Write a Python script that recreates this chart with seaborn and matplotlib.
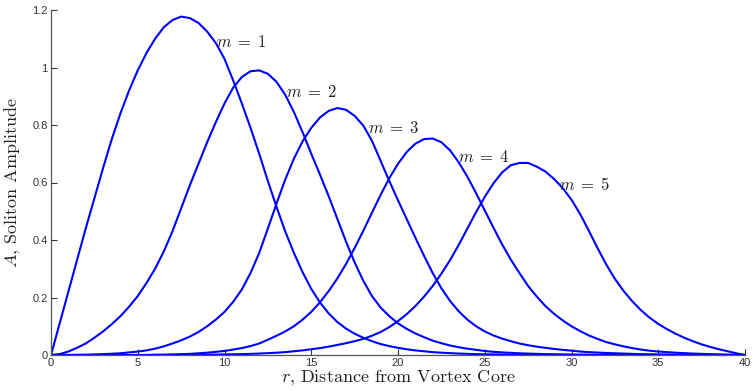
import matplotlib.pyplot as plt
import seaborn as sns
import pandas as pd

# radial grid (distance from vortex core), every half unit from 0 to 40
r = [i * 0.5 for i in range(81)]

# soliton amplitude for each winding number m
amp_m1 = [0, 0.11, 0.22, 0.33, 0.44, 0.545, 0.65, 0.75, 0.84, 0.92,
          0.99, 1.05, 1.10, 1.14, 1.165, 1.177, 1.172, 1.155, 1.125, 1.085,
          1.03, 0.955, 0.875, 0.79, 0.70, 0.605, 0.515, 0.43, 0.355, 0.288,
          0.23, 0.183, 0.145, 0.115, 0.092, 0.074, 0.06, 0.048, 0.038, 0.031,
          0.025, 0.02, 0.016, 0.013, 0.010, 0.008, 0.0065, 0.005, 0.004, 0.003,
          0.0025, 0.002, 0.0015, 0.0012, 0.001, 0.0008, 0.0006, 0.0005, 0.0004, 0.0003,
          0.0002, 0.0002, 0.0001, 0, 0, 0, 0, 0, 0, 0,
          0, 0, 0, 0, 0, 0, 0, 0, 0, 0,
          0]
amp_m2 = [0, 0.003, 0.012, 0.025, 0.04, 0.06, 0.082, 0.107, 0.135, 0.168,
          0.205, 0.25, 0.30, 0.36, 0.43, 0.51, 0.59, 0.665, 0.74, 0.81,
          0.875, 0.93, 0.967, 0.987, 0.99, 0.978, 0.95, 0.905, 0.845, 0.775,
          0.70, 0.628, 0.553, 0.474, 0.395, 0.322, 0.258, 0.205, 0.165, 0.135,
          0.11, 0.091, 0.075, 0.062, 0.05, 0.041, 0.033, 0.027, 0.022, 0.018,
          0.014, 0.011, 0.009, 0.0075, 0.006, 0.005, 0.004, 0.003, 0.0025, 0.002,
          0.0015, 0.0012, 0.001, 0.0008, 0.0006, 0.0004, 0.0003, 0.0002, 0, 0,
          0, 0, 0, 0, 0, 0, 0, 0, 0, 0,
          0]
amp_m3 = [0, 0, 0, 0.0005, 0.001, 0.002, 0.003, 0.0045, 0.006, 0.009,
          0.012, 0.016, 0.022, 0.03, 0.04, 0.051, 0.064, 0.08, 0.10, 0.123,
          0.15, 0.185, 0.228, 0.285, 0.355, 0.44, 0.527, 0.61, 0.683, 0.743,
          0.79, 0.826, 0.849, 0.859, 0.853, 0.832, 0.798, 0.745, 0.675, 0.605,
          0.538, 0.473, 0.408, 0.345, 0.285, 0.232, 0.188, 0.152, 0.123, 0.10,
          0.082, 0.068, 0.057, 0.048, 0.04, 0.034, 0.029, 0.025, 0.021, 0.018,
          0.015, 0.012, 0.010, 0.0085, 0.007, 0.006, 0.005, 0.004, 0.003, 0.0025,
          0.002, 0.0015, 0.001, 0.0007, 0.0005, 0.0003, 0.0002, 0, 0, 0,
          0]
amp_m4 = [0, 0, 0, 0, 0, 0, 0, 0, 0, 0,
          0, 0, 0.001, 0.0015, 0.002, 0.003, 0.004, 0.006, 0.008, 0.011,
          0.014, 0.019, 0.024, 0.031, 0.04, 0.053, 0.067, 0.082, 0.10, 0.123,
          0.15, 0.183, 0.222, 0.266, 0.316, 0.372, 0.432, 0.495, 0.557, 0.615,
          0.665, 0.706, 0.735, 0.751, 0.753, 0.74, 0.712, 0.67, 0.62, 0.563,
          0.503, 0.443, 0.385, 0.332, 0.285, 0.24, 0.203, 0.17, 0.143, 0.12,
          0.10, 0.083, 0.068, 0.056, 0.045, 0.037, 0.03, 0.024, 0.019, 0.015,
          0.012, 0.01, 0.008, 0.0065, 0.005, 0.004, 0.003, 0.002, 0.0012, 0.0005,
          0]
amp_m5 = [0, 0, 0, 0, 0, 0, 0, 0, 0, 0,
          0, 0, 0, 0, 0, 0, 0, 0, 0.001, 0.0015,
          0.002, 0.0025, 0.003, 0.004, 0.005, 0.0065, 0.008, 0.010, 0.013, 0.016,
          0.02, 0.024, 0.029, 0.035, 0.041, 0.048, 0.056, 0.067, 0.08, 0.097,
          0.118, 0.142, 0.17, 0.203, 0.24, 0.283, 0.33, 0.383, 0.44, 0.497,
          0.55, 0.597, 0.635, 0.66, 0.668, 0.668, 0.655, 0.638, 0.612, 0.58,
          0.54, 0.49, 0.432, 0.372, 0.315, 0.265, 0.223, 0.187, 0.156, 0.13,
          0.108, 0.09, 0.074, 0.06, 0.048, 0.037, 0.028, 0.02, 0.013, 0.006,
          0]

modes = ['1', '2', '3', '4', '5']
amplitudes = [amp_m1, amp_m2, amp_m3, amp_m4, amp_m5]

# where the "m = ..." tags sit, in data coordinates
tag_r = [9.5, 13.55, 18.25, 23.45, 29.3]
tag_a = [1.088, 0.916, 0.789, 0.690, 0.591]

x_ticks = [0, 5, 10, 15, 20, 25, 30, 35, 40]
x_tick_labels = ['0', '5', '10', '15', '20', '25', '30', '35', '40']
y_ticks = [0, 0.2, 0.4, 0.6, 0.8, 1.0, 1.2]
y_tick_labels = ['0', '0.2', '0.4', '0.6', '0.8', '1', '1.2']

df = pd.concat(
    [pd.DataFrame({'r': r, 'A': amp, 'm': m}) for m, amp in zip(modes, amplitudes)],
    ignore_index=True,
)

sns.set_style('ticks')
plt.rcParams['mathtext.fontset'] = 'cm'
plt.rcParams['axes.unicode_minus'] = False

fig = plt.figure(figsize=(7.53, 3.91), dpi=100)
ax = fig.add_axes([51 / 753, 36 / 391, 694 / 753, 345 / 391])

sns.lineplot(
    data=df, x='r', y='A', hue='m',
    palette=['#0000ff'] * len(modes),
    linewidth=1.5, legend=False, ax=ax,
)

for m, tr, ta in zip(modes, tag_r, tag_a):
    ax.text(tr, ta, rf'$m\;=\;{m}$', fontsize=12, ha='left', va='center',
            color='#222222')

ax.set_xlim(0, 40)
ax.set_ylim(0, 1.2)
ax.set_xticks(x_ticks)
ax.set_xticklabels(x_tick_labels, family='Liberation Sans', fontsize=8)
ax.set_yticks(y_ticks)
ax.set_yticklabels(y_tick_labels, family='Liberation Sans', fontsize=8)
ax.tick_params(direction='in', length=4, width=0.8, colors='#333333', pad=2.5)

sns.despine(ax=ax)
for side in ['left', 'bottom']:
    ax.spines[side].set_color('#555555')
    ax.spines[side].set_linewidth(0.9)

ax.set_xlabel('$r$, Distance from Vortex Core', family='cmr10', fontsize=13,
              color='#222222', labelpad=0)
ax.set_ylabel('$A$, Soliton Amplitude', family='cmr10', fontsize=13,
              color='#222222', labelpad=7)

fig.savefig('out.png', dpi=100, facecolor='white')
